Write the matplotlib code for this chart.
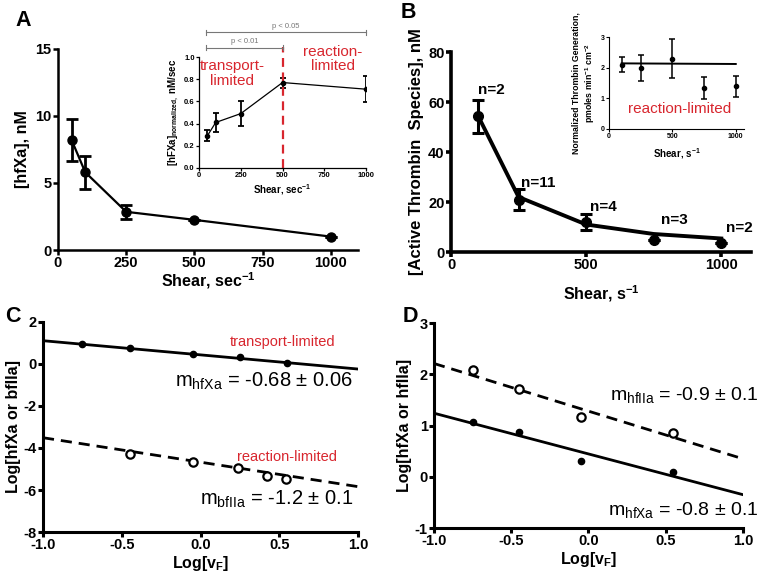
import numpy as np
import matplotlib
matplotlib.use('Agg')
import matplotlib.pyplot as plt

plt.rcParams['font.family'] = ['Liberation Sans', 'DejaVu Sans']
plt.rcParams['mathtext.fontset'] = 'custom'
plt.rcParams['mathtext.rm'] = 'Liberation Sans'
plt.rcParams['mathtext.bf'] = 'Liberation Sans:bold'
plt.rcParams['mathtext.default'] = 'regular'
plt.rcParams['axes.unicode_minus'] = False

RED = '#d8262e'
GRAY = '#777777'

# panel A
a_shear = [50, 100, 250, 500, 1000]
a_fxa = [8.2, 5.8, 2.85, 2.25, 1.0]
a_err = [1.55, 1.25, 0.5, 0.0, 0.0]

# panel A inset
ai_shear = [50, 100, 250, 500, 1000]
ai_rate = [0.29, 0.41, 0.49, 0.77, 0.71]
ai_err = [0.05, 0.09, 0.11, 0.045, 0.115]

# panel B
b_shear = [100, 250, 500, 750, 1000]
b_thr = [54.3, 21.0, 12.0, 4.8, 3.6]
b_err = [6.6, 4.3, 3.2, 0.0, 0.0]
b_n = ['n=2', 'n=11', 'n=4', 'n=3', 'n=2']
b_fit_x = [100, 250, 500, 750, 1000]
b_fit_y = [54.5, 22.0, 11.0, 7.2, 5.4]

# panel B inset
bi_shear = [100, 250, 500, 750, 1000]
bi_gen = [2.1, 2.0, 2.29, 1.33, 1.39]
bi_err = [0.25, 0.42, 0.63, 0.36, 0.34]
bi_fit_x = [100, 1000]
bi_fit_y = [2.14, 2.12]

# panel C
c_x1 = [-0.75, -0.45, -0.05, 0.25, 0.55]
c_y1 = [0.93, 0.75, 0.48, 0.35, 0.03]
c_fit1 = [1.11, -0.24]
c_x2 = [-0.45, -0.05, 0.24, 0.42, 0.54]
c_y2 = [-4.27, -4.65, -4.94, -5.32, -5.46]
c_fit2 = [-3.51, -5.84]

# panel D
d_x = [-0.75, -0.45, -0.05, 0.55]
d_xa = [1.06, 0.87, 0.31, 0.09]
d_fit_xa = [1.24, -0.35]
d_iia = [2.08, 1.71, 1.17, 0.86]
d_fit_iia = [2.21, 0.35]
fit_x = [-1.0, 1.0]

W, H = 762, 580
fig = plt.figure(figsize=(W / 100, H / 100), dpi=100)


def box(l, t, r, b):
    return [l / W, 1 - b / H, (r - l) / W, (b - t) / H]


def style(ax, lw=2.0, fs=10.5, tl=3.5, pad=1.0):
    for s in ['top', 'right']:
        ax.spines[s].set_visible(False)
    for s in ['left', 'bottom']:
        ax.spines[s].set_linewidth(lw)
    ax.tick_params(width=lw, length=tl, labelsize=fs, pad=pad)
    for lab in ax.get_xticklabels() + ax.get_yticklabels():
        lab.set_fontweight('bold')


# ---- A
ax = fig.add_axes(box(58, 49, 358, 250))
ax.errorbar(a_shear, a_fxa, yerr=a_err, color='black', lw=1.6, marker='o', ms=6.5,
            elinewidth=2.0, capsize=4, capthick=2.0)
ax.set_xlim(0, 1100)
ax.set_ylim(0, 15)
ax.set_xticks([0, 250, 500, 750, 1000])
ax.set_yticks([0, 5, 10, 15])
style(ax, lw=1.8)
ax.set_ylabel('[hfXa], nM', fontsize=11.5, fontweight='bold', labelpad=4)
ax.set_xlabel('Shear, sec$^{\\mathbf{-1}}$', fontsize=11.5, fontweight='bold', labelpad=0)

ai = fig.add_axes(box(199, 57, 366, 168))
ai.errorbar(ai_shear, ai_rate, yerr=ai_err, color='black', lw=0.9, marker='o', ms=3,
            elinewidth=1.3, capsize=2.5, capthick=1.3)
ai.set_xlim(0, 1000)
ai.set_ylim(0, 1.0)
ai.set_xticks([0, 250, 500, 750, 1000])
ai.set_yticks([0, 0.2, 0.4, 0.6, 0.8, 1.0])
ai.set_yticklabels(['0.0', '0.2', '0.4', '0.6', '0.8', '1.0'])
style(ai, lw=0.9, fs=5.5, tl=2)
ai.plot([500, 500], [0, 1.09], color=RED, lw=1.6, dashes=(4, 2.5), clip_on=False)
ai.set_ylabel('[hFXa]$_{\\mathbf{normalized,}}$ nM/sec', fontsize=7, fontweight='bold', labelpad=2)
ai.set_xlabel('Shear, sec$^{\\mathbf{-1}}$', fontsize=7, fontweight='bold', labelpad=2)
ai.text(200, 0.85, 'transport-\nlimited', color=RED, fontsize=11, ha='center', va='center',
        linespacing=1.05)
ai.text(800, 0.98, 'reaction-\nlimited', color=RED, fontsize=11, ha='center', va='center',
        linespacing=1.05)
for x0, x1, y, lab in [(42, 500, 1.084, 'p < 0.01'), (42, 1000, 1.222, 'p < 0.05')]:
    ai.plot([x0, x1], [y, y], color=GRAY, lw=0.8, clip_on=False)
    ai.plot([x0, x0], [y - 0.025, y + 0.025], color=GRAY, lw=0.8, clip_on=False)
    ai.plot([x1, x1], [y - 0.025, y + 0.025], color=GRAY, lw=0.8, clip_on=False)
    ai.text((x0 + x1) / 2, y + 0.025, lab, color=GRAY, fontsize=5.5, ha='center', va='bottom')

# ---- B
bx = fig.add_axes(box(451, 52, 751, 252))
bx.plot(b_fit_x, b_fit_y, color='black', lw=2.8)
bx.errorbar(b_shear, b_thr, yerr=b_err, color='black', ls='none', marker='o', ms=7,
            elinewidth=2.2, capsize=4, capthick=2.2)
bx.set_xlim(0, 1110)
bx.set_ylim(0, 80)
bx.set_xticks([0, 500, 1000])
bx.set_yticks([0, 20, 40, 60, 80])
style(bx, lw=2.6)
n_dx = [48, 72, 63, 76, 67]
n_y = [64.8, 27.6, 18.0, 12.8, 9.6]
for x, off, y, lab in zip(b_shear, n_dx, n_y, b_n):
    bx.text(x + off, y, lab, fontsize=11, fontweight='bold', ha='center', va='center')
bx.set_ylabel('[Active Thrombin  Species], nM', fontsize=12, fontweight='bold', labelpad=3)
bx.set_xlabel('Shear, s$^{\\mathbf{-1}}$', fontsize=11.5, fontweight='bold', labelpad=8)

bi = fig.add_axes(box(609, 37, 744, 129))
bi.plot(bi_fit_x, bi_fit_y, color='black', lw=1.4)
bi.errorbar(bi_shear, bi_gen, yerr=bi_err, color='black', ls='none', marker='o', ms=3,
            elinewidth=1.1, capsize=2.5, capthick=1.1)
bi.set_xlim(0, 1065)
bi.set_ylim(0, 3)
bi.set_xticks([0, 500, 1000])
bi.set_yticks([0, 1, 2, 3])
style(bi, lw=0.8, fs=5, tl=2)
bi.text(560, 0.65, 'reaction-limited', color=RED, fontsize=11, ha='center', va='center')
bi.set_ylabel('Normalized Thrombin Generation,\npmoles min$^{\\mathbf{-1}}$ cm$^{\\mathbf{-2}}$',
              fontsize=6.3, fontweight='bold', labelpad=3, linespacing=1.3)
bi.set_xlabel('Shear, s$^{\\mathbf{-1}}$', fontsize=7, fontweight='bold', labelpad=4)

# ---- C
cx = fig.add_axes(box(43, 322, 358, 532))
cx.plot(fit_x, c_fit1, color='black', lw=2.0)
cx.plot(c_x1, c_y1, 'o', color='black', ms=4.5)
cx.plot(fit_x, c_fit2, color='black', lw=2.0, dashes=(4, 2.5))
cx.plot(c_x2, c_y2, 'o', mfc='white', mec='black', mew=1.6, ms=6)
cx.set_xlim(-1, 1)
cx.set_ylim(-8, 2)
cx.set_xticks([-1.0, -0.5, 0.0, 0.5, 1.0])
cx.set_xticklabels(['-1.0', '-0.5', '0.0', '0.5', '1.0'])
cx.set_yticks([-8, -6, -4, -2, 0, 2])
style(cx, lw=2.2)
cx.text(0.52, 1.04, 'transport-limited', color=RED, fontsize=10.5, ha='center', va='center')
cx.text(0.55, -4.41, 'reaction-limited', color=RED, fontsize=10.5, ha='center', va='center')
cx.text(0.97, -0.85, 'm$_{hfXa}$ = -0.68 ± 0.06', fontsize=14.5, ha='right', va='center')
cx.text(0.97, -6.45, 'm$_{bfIIa}$ = -1.2 ± 0.1', fontsize=14.5, ha='right', va='center')
cx.set_ylabel('Log[hfXa or bfIIa]', fontsize=11.5, fontweight='bold', labelpad=2)
cx.set_xlabel('Log[v$_{\\mathbf{F}}$]', fontsize=11.5, fontweight='bold', labelpad=1)

# ---- D
dx = fig.add_axes(box(434, 323, 743, 528))
dx.plot(fit_x, d_fit_xa, color='black', lw=2.0)
dx.plot(d_x, d_xa, 'o', color='black', ms=4.5)
dx.plot(fit_x, d_fit_iia, color='black', lw=2.0, dashes=(4, 2.5))
dx.plot(d_x, d_iia, 'o', mfc='white', mec='black', mew=1.6, ms=6)
dx.set_xlim(-1, 1)
dx.set_ylim(-1, 3)
dx.set_xticks([-1.0, -0.5, 0.0, 0.5, 1.0])
dx.set_xticklabels(['-1.0', '-0.5', '0.0', '0.5', '1.0'])
dx.set_yticks([-1, 0, 1, 2, 3])
style(dx, lw=2.2)
dx.text(1.1, 1.6, 'm$_{hfIIa}$ = -0.9 ± 0.1', fontsize=14, ha='right', va='center', clip_on=False)
dx.text(1.1, -0.64, 'm$_{hfXa}$ = -0.8 ± 0.1', fontsize=14, ha='right', va='center', clip_on=False)
dx.set_ylabel('Log[hfXa or hfIIa]', fontsize=11.5, fontweight='bold', labelpad=2)
dx.set_xlabel('Log[v$_{\\mathbf{F}}$]', fontsize=11.5, fontweight='bold', labelpad=1)

# panel letters
for lab, px, py in [('A', 23, 21), ('B', 408, 13), ('C', 13, 316), ('D', 410, 317)]:
    fig.text(px / W, 1 - py / H, lab, fontsize=15.5, fontweight='bold', ha='center', va='center')

fig.savefig('out.png', dpi=100)
